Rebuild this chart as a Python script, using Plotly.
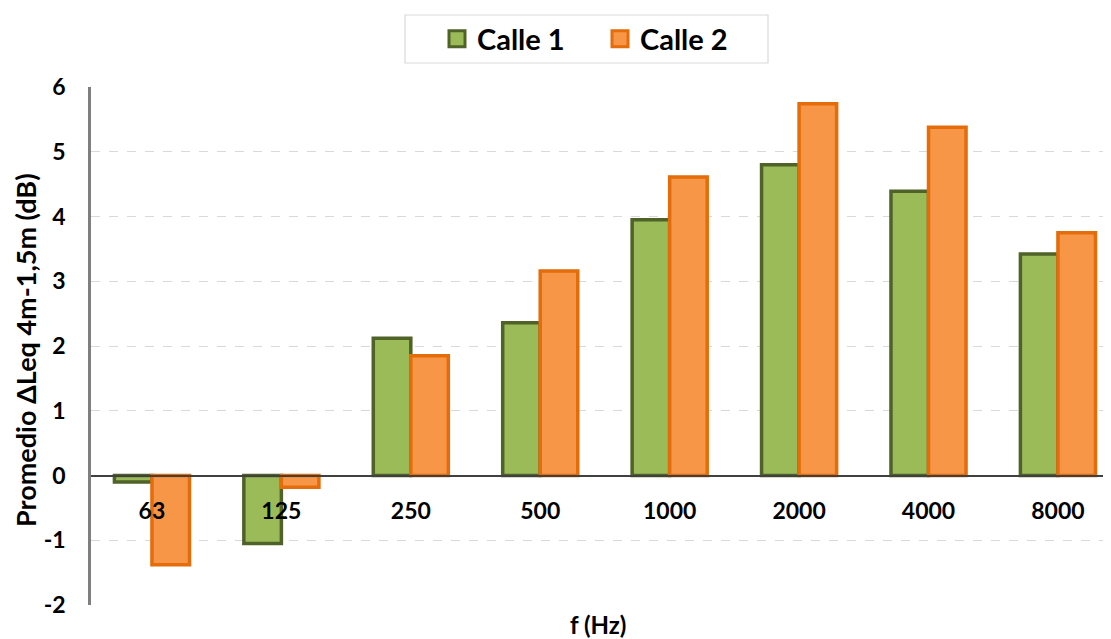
import plotly.graph_objects as go

categories = ["63", "125", "250", "500", "1000", "2000", "4000", "8000"]
calle1 = [-0.10, -1.05, 2.12, 2.36, 3.95, 4.80, 4.39, 3.42]
calle2 = [-1.38, -0.18, 1.85, 3.16, 4.61, 5.74, 5.38, 3.75]
y_ticks = [-2, -1, 0, 1, 2, 3, 4, 5, 6]
y_ticktext = ["-2", "-1", "0", "1", "2", "3", "4", "5", "6"]

FONT = "Lato, Open Sans, sans-serif"
GREEN, GREEN_LINE = "#9BBB59", "#4F6228"
ORANGE, ORANGE_LINE = "#F79646", "#E46C0A"

# page body has an 8px margin: build the figure 8px smaller and offset
OFF = 8
PL, PR, PT, PB = 91, 1111, 87, 605  # plot area in window pixels
PW, PH = PR - PL, PB - PT


def px(xw):
    return (xw - PL) / PW


def py(yw):
    return (PB - yw) / PH


fig = go.Figure()
xs = list(range(len(categories)))
fig.add_trace(go.Bar(
    name="Calle 1", x=xs, y=calle1, showlegend=False,
    marker=dict(color=GREEN, line=dict(color=GREEN_LINE, width=3.5)),
))
fig.add_trace(go.Bar(
    name="Calle 2", x=xs, y=calle2, showlegend=False,
    marker=dict(color=ORANGE, line=dict(color=ORANGE_LINE, width=3.5)),
))
for name, c, lc in [("Calle 1", GREEN, GREEN_LINE), ("Calle 2", ORANGE, ORANGE_LINE)]:
    fig.add_trace(go.Scatter(
        name=name, x=[None], y=[None], mode="markers",
        marker=dict(symbol="square", size=16, color=c, line=dict(color=lc, width=3)),
    ))

fig.update_layout(
    width=1111 - OFF, height=639 - OFF,
    margin=dict(l=PL - OFF, r=0, t=PT - OFF, b=639 - PB, autoexpand=False),
    paper_bgcolor="white", plot_bgcolor="white",
    barmode="group", bargap=0.42, bargroupgap=0,
    font=dict(family=FONT, color="black"),
    legend=dict(
        orientation="h", x=px(437), xanchor="left", y=py(39), yanchor="middle",
        bgcolor="rgba(0,0,0,0)", borderwidth=0,
        font=dict(size=29, family=FONT, weight="bold"),
        itemwidth=30, entrywidth=118,
    ),
    xaxis=dict(
        tickmode="array", tickvals=xs, ticktext=categories,
        range=[-0.471, 7.41],
        anchor="free", position=0.25, automargin=False,
        showline=True, linecolor="#404040", linewidth=1.5,
        showgrid=False, ticks="", zeroline=False,
        tickfont=dict(size=23, family=FONT, weight="bold"),
        ticklabelstandoff=15,
    ),
    yaxis=dict(
        range=[-2, 6], tickmode="array", tickvals=y_ticks, ticktext=y_ticktext,
        automargin=False,
        showline=True, linecolor="#7F7F7F", linewidth=2.5,
        showgrid=True, gridcolor="#D9D9D9", griddash="dash", gridwidth=1.2,
        zeroline=False, ticks="",
        tickfont=dict(size=23, family=FONT, weight="bold"),
        ticklabelstandoff=18,
    ),
)

# legend frame
fig.add_shape(
    type="rect", xref="paper", yref="paper",
    x0=px(405), x1=px(768), y0=py(63), y1=py(15),
    line=dict(color="#D9D9D9", width=1.2), fillcolor="white", layer="below",
)

fig.add_annotation(
    text="Promedio ΔLeq 4m-1,5m (dB)", xref="paper", yref="paper",
    x=px(25), y=py(350), xanchor="center", yanchor="middle",
    textangle=-90, showarrow=False,
    font=dict(size=27, family=FONT, weight="bold"),
)
fig.add_annotation(
    text="f (Hz)", xref="paper", yref="paper", x=px(598), y=py(624),
    xanchor="center", yanchor="middle", showarrow=False,
    font=dict(size=24, family=FONT, weight="bold"),
)

fig.write_html("out.html")
